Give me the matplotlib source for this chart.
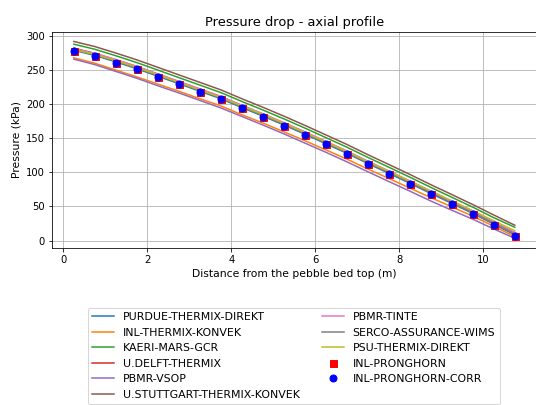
import matplotlib

matplotlib.use("Agg")
import matplotlib.pyplot as plt

# axial positions (m) along the pebble bed
x_pos = [0.25, 0.75, 1.25, 1.75, 2.25, 2.75, 3.25, 3.75, 4.25, 4.75, 5.25,
         5.75, 6.25, 6.75, 7.25, 7.75, 8.25, 8.75, 9.25, 9.75, 10.25, 10.75]

# pressure (kPa) for each code
purdue = [279, 271.5, 262, 252, 241, 230, 219, 208, 195, 182.5, 169.5,
          156, 142, 128, 113, 98.6, 84, 69, 54.5, 39.8, 24, 8.4]
inl_konvek = [268, 260, 250, 240, 229.5, 219, 208, 197.5, 184.5, 172.5, 159.5,
              146.5, 133, 119.5, 105, 91.1, 77, 63, 49.5, 35.8, 21, 5.9]
kaeri = [288, 280.5, 271, 261, 250, 239, 228, 217, 204, 191.5, 178.5,
         165, 151, 137, 122, 107.6, 93, 78, 63.5, 49, 33.5, 19.5]
delft = [282, 274.5, 265, 255, 244, 233, 222, 211, 198, 185.5, 172.5,
         159, 145, 131, 116, 101.6, 87, 72, 57.5, 42.8, 27, 11.4]
vsop = [266, 258, 248, 238, 227, 216.5, 205.5, 194.5, 182, 169.5, 156.5,
        143, 129.5, 115.5, 101, 86.6, 72.5, 58, 44.5, 31.3, 17, 3.4]
stuttgart = [292, 284.5, 275, 265, 254, 243, 232, 221, 208, 195.5, 182.5,
             169, 155, 141, 126, 111.6, 97, 82, 67.5, 52.8, 37.5, 22.5]
tinte = [281.5, 274.5, 265.5, 255.5, 244.5, 233.5, 222.5, 211.5, 198.5, 186, 173,
         159.5, 145.5, 131.5, 116.5, 102, 87.5, 72.5, 58, 43.3, 27.5, 12]
serco = [280, 272.5, 263, 253, 242, 231, 220, 209, 196, 183.5, 170.5,
         157, 143, 129, 114, 99.6, 85, 70, 55.5, 40.8, 25, 9.4]
psu = [280, 273, 264, 254, 243, 232, 221, 210, 197.5, 185, 172,
       158.5, 144.5, 130.5, 115.5, 101.5, 87, 72.5, 58, 43.8, 29, 14.5]

line_series = [
    ("PURDUE-THERMIX-DIREKT", purdue),
    ("INL-THERMIX-KONVEK", inl_konvek),
    ("KAERI-MARS-GCR", kaeri),
    ("U.DELFT-THERMIX", delft),
    ("PBMR-VSOP", vsop),
    ("U.STUTTGART-THERMIX-KONVEK", stuttgart),
    ("PBMR-TINTE", tinte),
    ("SERCO-ASSURANCE-WIMS", serco),
    ("PSU-THERMIX-DIREKT", psu),
]

pronghorn = [278, 270.5, 261, 251, 240, 229, 218, 207, 194, 181.5, 168.5,
             155, 141, 127, 112, 97.6, 83, 68, 53.5, 38.8, 23, 7.4]
pronghorn_corr = [278, 270.5, 261, 251, 240, 229, 218, 207, 194, 181.5, 168.5,
                  155, 141, 127, 112, 97.6, 83, 68, 53.5, 38.8, 23, 7.4]

fig = plt.figure(figsize=(536 / 72, 405 / 72), dpi=72)
ax = fig.add_axes([0.0966, 0.3874, 0.905, 0.5346])

for name, values in line_series:
    ax.plot(x_pos, values, label=name)

ax.plot(x_pos, pronghorn, "rs", markersize=7, label="INL-PRONGHORN")
ax.plot(x_pos, pronghorn_corr, "bo", markersize=7, label="INL-PRONGHORN-CORR")

ax.set_title("Pressure drop - axial profile", fontsize=13)
ax.set_xlabel("Distance from the pebble bed top (m)", fontsize=10.7)
ax.set_ylabel("Pressure (kPa)", fontsize=10.7)
ax.grid(True)

ax.legend(loc="upper center", bbox_to_anchor=(0.548, 0.254),
          bbox_transform=fig.transFigure, ncol=2, fontsize=11)

fig.savefig("out.png", dpi=72)
